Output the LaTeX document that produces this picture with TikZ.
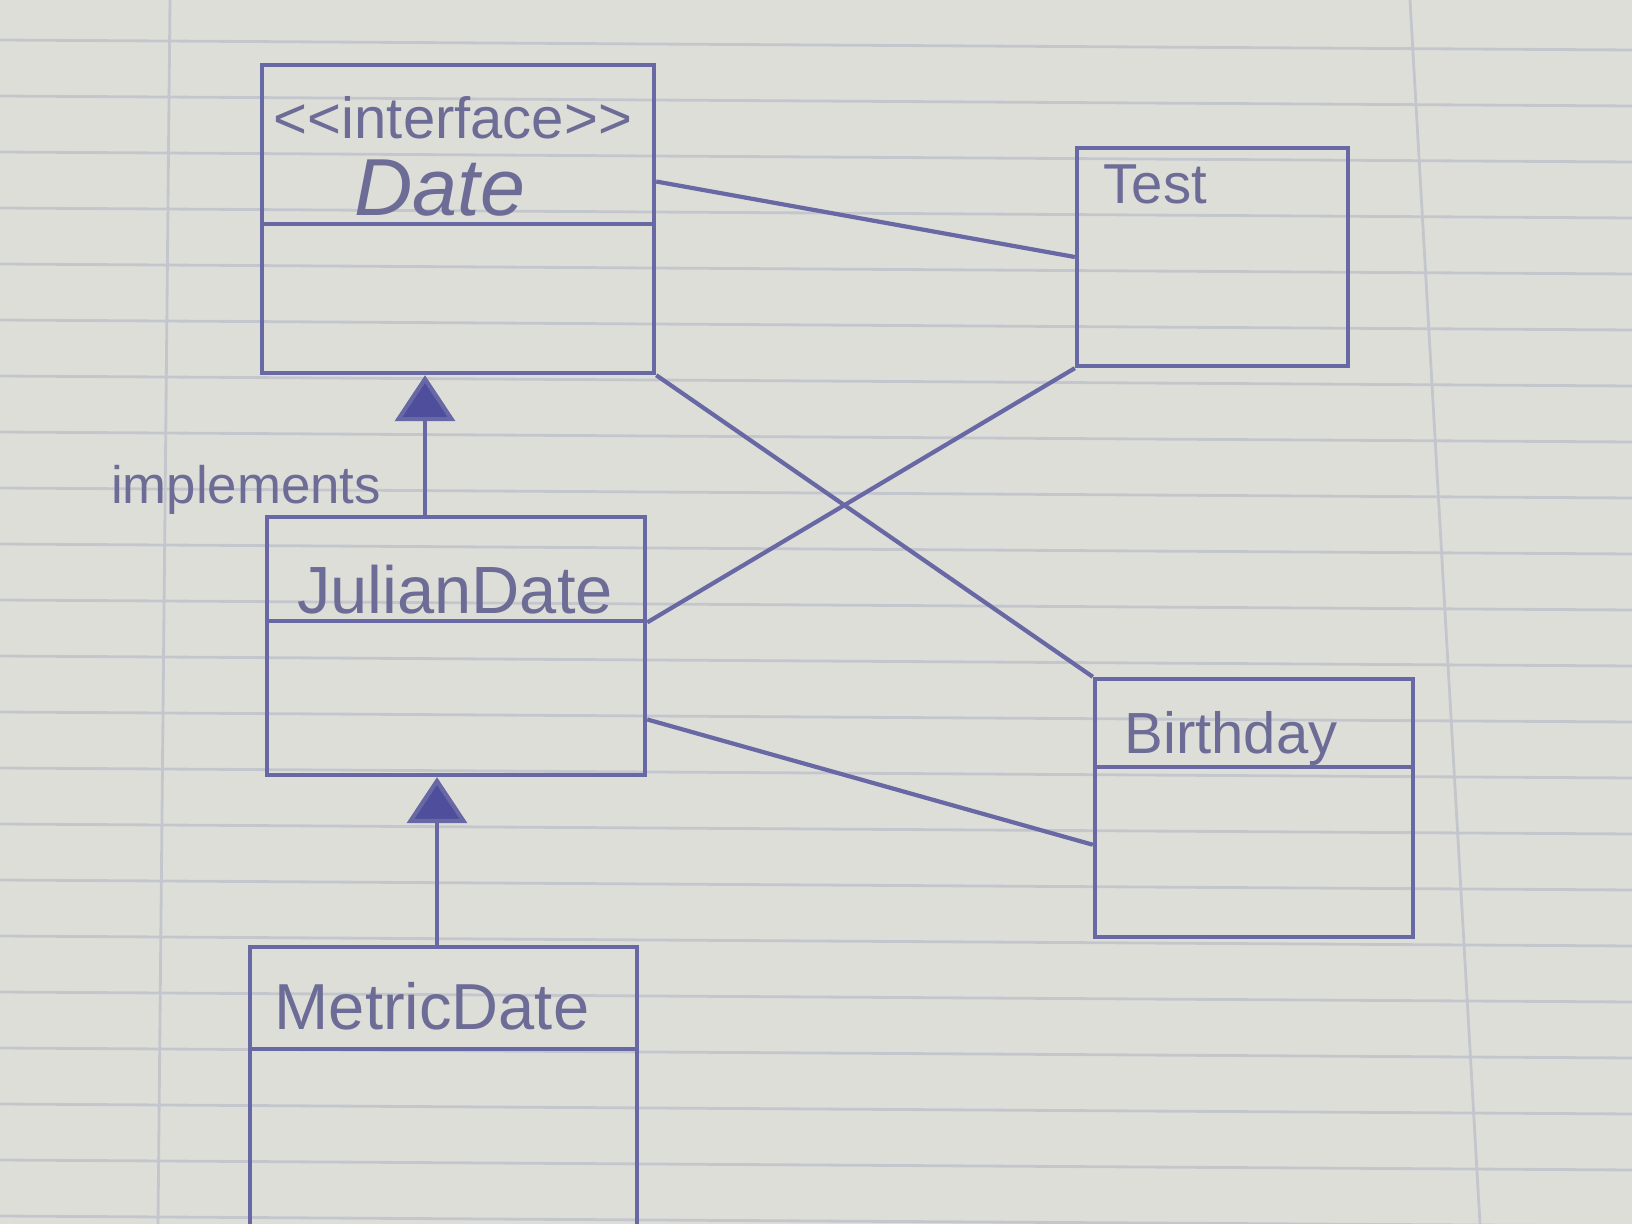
\documentclass[tikz,border=0pt]{standalone}
\usepackage{fontspec}
\setmainfont{Liberation Sans}
\usetikzlibrary{arrows.meta,calc}
\definecolor{paper}{RGB}{222,222,217}
\definecolor{rule}{RGB}{196,198,206}
\definecolor{pen}{RGB}{104,104,164}
\definecolor{ink}{RGB}{108,108,150}
\definecolor{penfill}{RGB}{78,78,156}
\begin{document}
\begin{tikzpicture}[x=0.01cm,y=-0.01cm,
  box/.style={draw=pen,line width=1.2pt,rectangle,inner sep=0pt},
  wire/.style={draw=pen,line width=1.2pt},
  realize/.style={draw=pen,line width=1.2pt,-{Triangle[width=0.6cm,length=0.46cm,fill=penfill]}},
  lbl/.style={text=ink,inner sep=0pt}]
\useasboundingbox (0,0) rectangle (1632,1224);
\fill[paper] (0,0) rectangle (1632,1224);
\clip (0,0) rectangle (1632,1224);
% notebook rules
\foreach \yy in {40,96,152,208,264,320,376,432,488,544,600,656,712,768,824,880,936,992,1048,1104,1160,1216}
  \draw[rule,line width=0.8pt] (0,\yy) -- (1632,\yy+10);
\draw[rule,line width=0.8pt] (170,0) -- (158,1224);
\draw[rule,line width=0.8pt] (1410,0) -- (1480,1224);
% boxes
\node[box,minimum width=3.92cm,minimum height=3.08cm] (date) at (458,219) {};
\node[box,minimum width=2.71cm,minimum height=2.18cm] (test) at (1212.5,257) {};
\node[box,minimum width=3.78cm,minimum height=2.58cm] (julian) at (456,646) {};
\node[box,minimum width=3.18cm,minimum height=2.58cm] (birthday) at (1254,808) {};
\node[box,minimum width=3.87cm,minimum height=3.03cm] (metric) at (443.5,1098.5) {};
% dividers
\coordinate (dd) at (0,224);
\coordinate (jd) at (0,621);
\coordinate (bd) at (0,767);
\coordinate (md) at (0,1049);
\draw[wire] (date.west |- dd) -- (date.east |- dd);
\draw[wire] (julian.west |- jd) -- (julian.east |- jd);
\draw[wire] (birthday.west |- bd) -- (birthday.east |- bd);
\draw[wire] (metric.west |- md) -- (metric.east |- md);
% texts
\node[lbl,font=\fontsize{16.5}{18}\selectfont] (stereo) at (453,118) {<\kern0pt<interface>\kern0pt>};
\node[lbl,font=\fontsize{23}{26}\selectfont\itshape] (datet) at (440,188) {Date};
\node[lbl,font=\fontsize{16}{18}\selectfont,anchor=west] (testt) at (1103,184) {Test};
\node[lbl,font=\fontsize{19}{22}\selectfont] (juliant) at (455,590) {JulianDate};
\node[lbl,font=\fontsize{16.5}{19}\selectfont] (birthdayt) at (1231,738) {Birthday};
\node[lbl,font=\fontsize{18.5}{21}\selectfont] (metrict) at (432,1006) {MetricDate};
\node[lbl,font=\fontsize{15}{17}\selectfont] (impl) at (246,490) {implements};
% associations
\coordinate (da) at ($(date.north east)!0.38!(date.south east)$);
\coordinate (ja) at ($(julian.north east)!0.41!(julian.south east)$);
\coordinate (jb) at ($(julian.north east)!0.78!(julian.south east)$);
\coordinate (ba) at ($(birthday.north west)!0.64!(birthday.south west)$);
\draw[wire] (da) -- (test.west);
\draw[wire] (date.south east) -- (birthday.north west);
\draw[wire] (test.south west) -- (ja);
\draw[wire] (jb) -- (ba);
% realizations
\coordinate (ax) at (425,0);
\coordinate (bx) at (437,0);
\draw[realize] (julian.north -| ax) -- (date.south -| ax);
\draw[realize] (metric.north -| bx) -- (julian.south -| bx);
\end{tikzpicture}
\end{document}
